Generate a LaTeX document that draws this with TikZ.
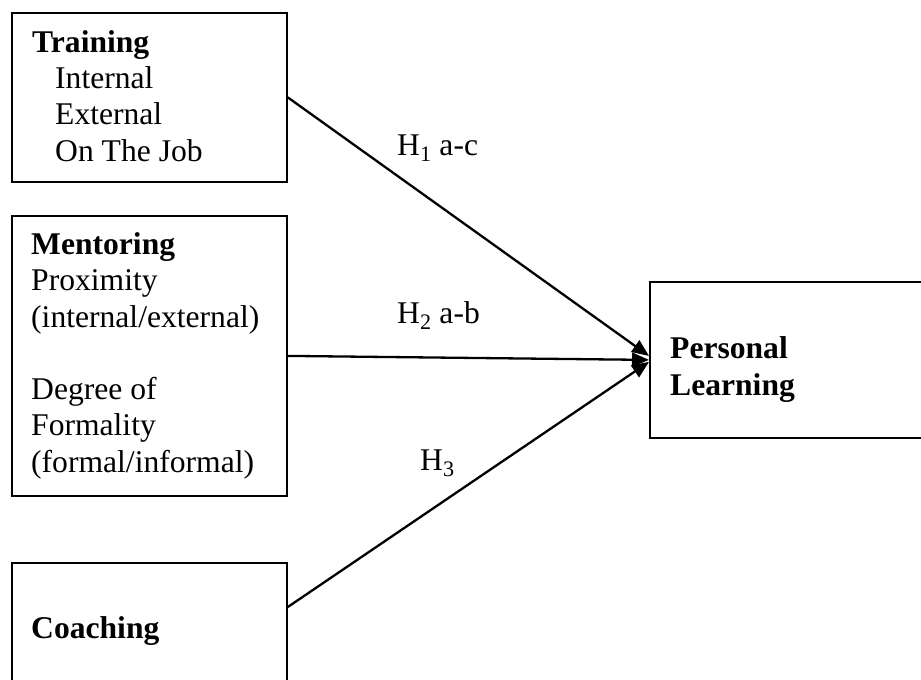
\documentclass[tikz,border=0pt]{standalone}
\usepackage{fontspec}
\setmainfont{Liberation Serif}
\usetikzlibrary{arrows.meta,positioning}
\tikzset{
  box/.style={draw, line width=1.8pt, rectangle, anchor=north west, inner sep=0},
  txt/.style={align=left, anchor=base west, inner sep=0, font=\fontsize{31.6}{36.3}\selectfont},
  link/.style={line width=2.3pt, -{Triangle[length=17pt,width=14pt]}},
}
\begin{document}
\begin{tikzpicture}[x=1pt,y=-1pt]
      \useasboundingbox (0,0) rectangle (921,680);
      % boxes
      \node[box, minimum width=275, minimum height=169] (train) at (11,12)  {};
      \node[box, minimum width=275, minimum height=280] (ment)  at (11,215) {};
      \node[box, minimum width=275, minimum height=125] (coach) at (11,562) {};
      \node[box, minimum width=280, minimum height=156] (pl)    at (649,281) {};
      % texts (placed by the baseline of their last line)
      \node[txt] (traintxt) at (32,161) {\textbf{Training}\\\hspace*{23pt}Internal\\\hspace*{23pt}External\\\hspace*{23pt}On The Job};
      \node[txt] (menttxt)  at (31,472) {\textbf{Mentoring}\\Proximity\\(internal/external)\\[36pt]Degree of\\Formality\\(formal/informal)};
      \node[txt] (coachtxt) at (31,638) {\textbf{Coaching}};
      \node[txt] (pltxt)    at (670,395) {\textbf{Personal}\\\textbf{Learning}};
      \node[txt] (hone)     at (397,155) {H\textsubscript{1} a-c};
      \node[txt] (htwo)     at (397,323) {H\textsubscript{2} a-b};
      \node[txt] (hthree)   at (420,470) {H\textsubscript{3}};
      % links
      \draw[link] (train.east) -- ([yshift=4pt]pl.west);
      \draw[link] (ment.east) -- (pl.west);
      \draw[link] ([yshift=-45pt]coach.north east) -- ([yshift=-2pt]pl.west);
\end{tikzpicture}
\end{document}
